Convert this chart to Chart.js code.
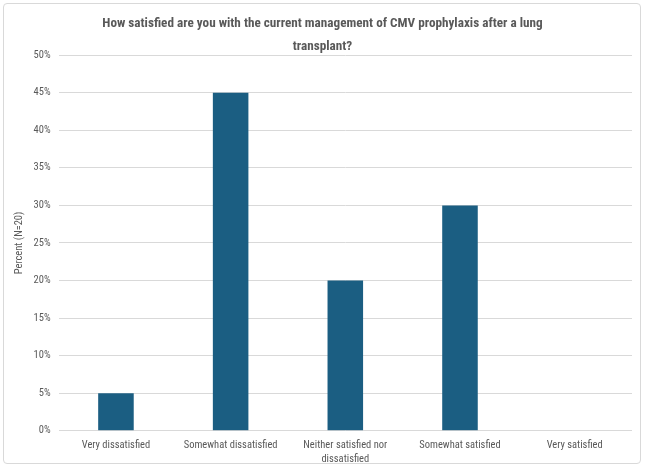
<!DOCTYPE html>
<html>
<head>
<meta charset="utf-8">
<script src="https://cdn.jsdelivr.net/npm/chart.js@4/dist/chart.umd.min.js"></script>
<style>
  html, body { margin: 0; padding: 0; background: #fff; }
  #wrap {
    position: absolute; left: 3px; top: 3px; width: 638px; height: 461px;
    border: 1px solid #d9d9d9; border-radius: 4px; box-sizing: border-box;
  }
  #wrap canvas { position: absolute; left: 0; top: 0; }
</style>
</head>
<body>
<div id="wrap"><canvas id="chart" width="636" height="459"></canvas></div>
<script>
const categories = [
  'Very dissatisfied',
  'Somewhat dissatisfied',
  ['Neither satisfied nor', 'dissatisfied'],
  'Somewhat satisfied',
  'Very satisfied'
];
const percents = [5, 45, 20, 30, 0];
const titleLines = [
  'How satisfied are you with the current management of CMV prophylaxis after a lung',
  'transplant?'
];
const yLabel = 'Percent (N=20)';

const font = "'Liberation Sans Narrow', 'Roboto Condensed', Roboto, sans-serif";
const grey = '#595959';

const ctx = document.getElementById('chart').getContext('2d');
new Chart(ctx, {
  type: 'bar',
  data: {
    labels: categories,
    datasets: [{
      data: percents,
      backgroundColor: '#1B5E82',
      barPercentage: 0.62,
      categoryPercentage: 0.5
    }]
  },
  options: {
    responsive: false,
    animation: false,
    layout: { padding: { left: 9, right: 8, top: 4, bottom: -3 } },
    plugins: {
      legend: { display: false },
      tooltip: { enabled: false },
      title: {
        display: true,
        text: titleLines,
        color: grey,
        font: { family: font, size: 13.2, weight: 'bold', lineHeight: 1.75 },
        padding: { top: 4, bottom: -3 }
      }
    },
    scales: {
      x: {
        grid: { display: false },
        border: { display: false },
        ticks: { color: grey, font: { family: font, size: 10.5, lineHeight: 1.3 }, maxRotation: 0, padding: 0 }
      },
      y: {
        min: 0, max: 50,
        ticks: {
          stepSize: 5, color: grey, padding: 8,
          font: { family: font, size: 10.5 },
          callback: v => v + '%'
        },
        grid: { color: '#d9d9d9', drawTicks: false },
        border: { display: false },
        title: { display: true, text: yLabel, color: grey, font: { family: font, size: 10.5 }, padding: 0 }
      }
    }
  }
});
</script>
</body>
</html>
